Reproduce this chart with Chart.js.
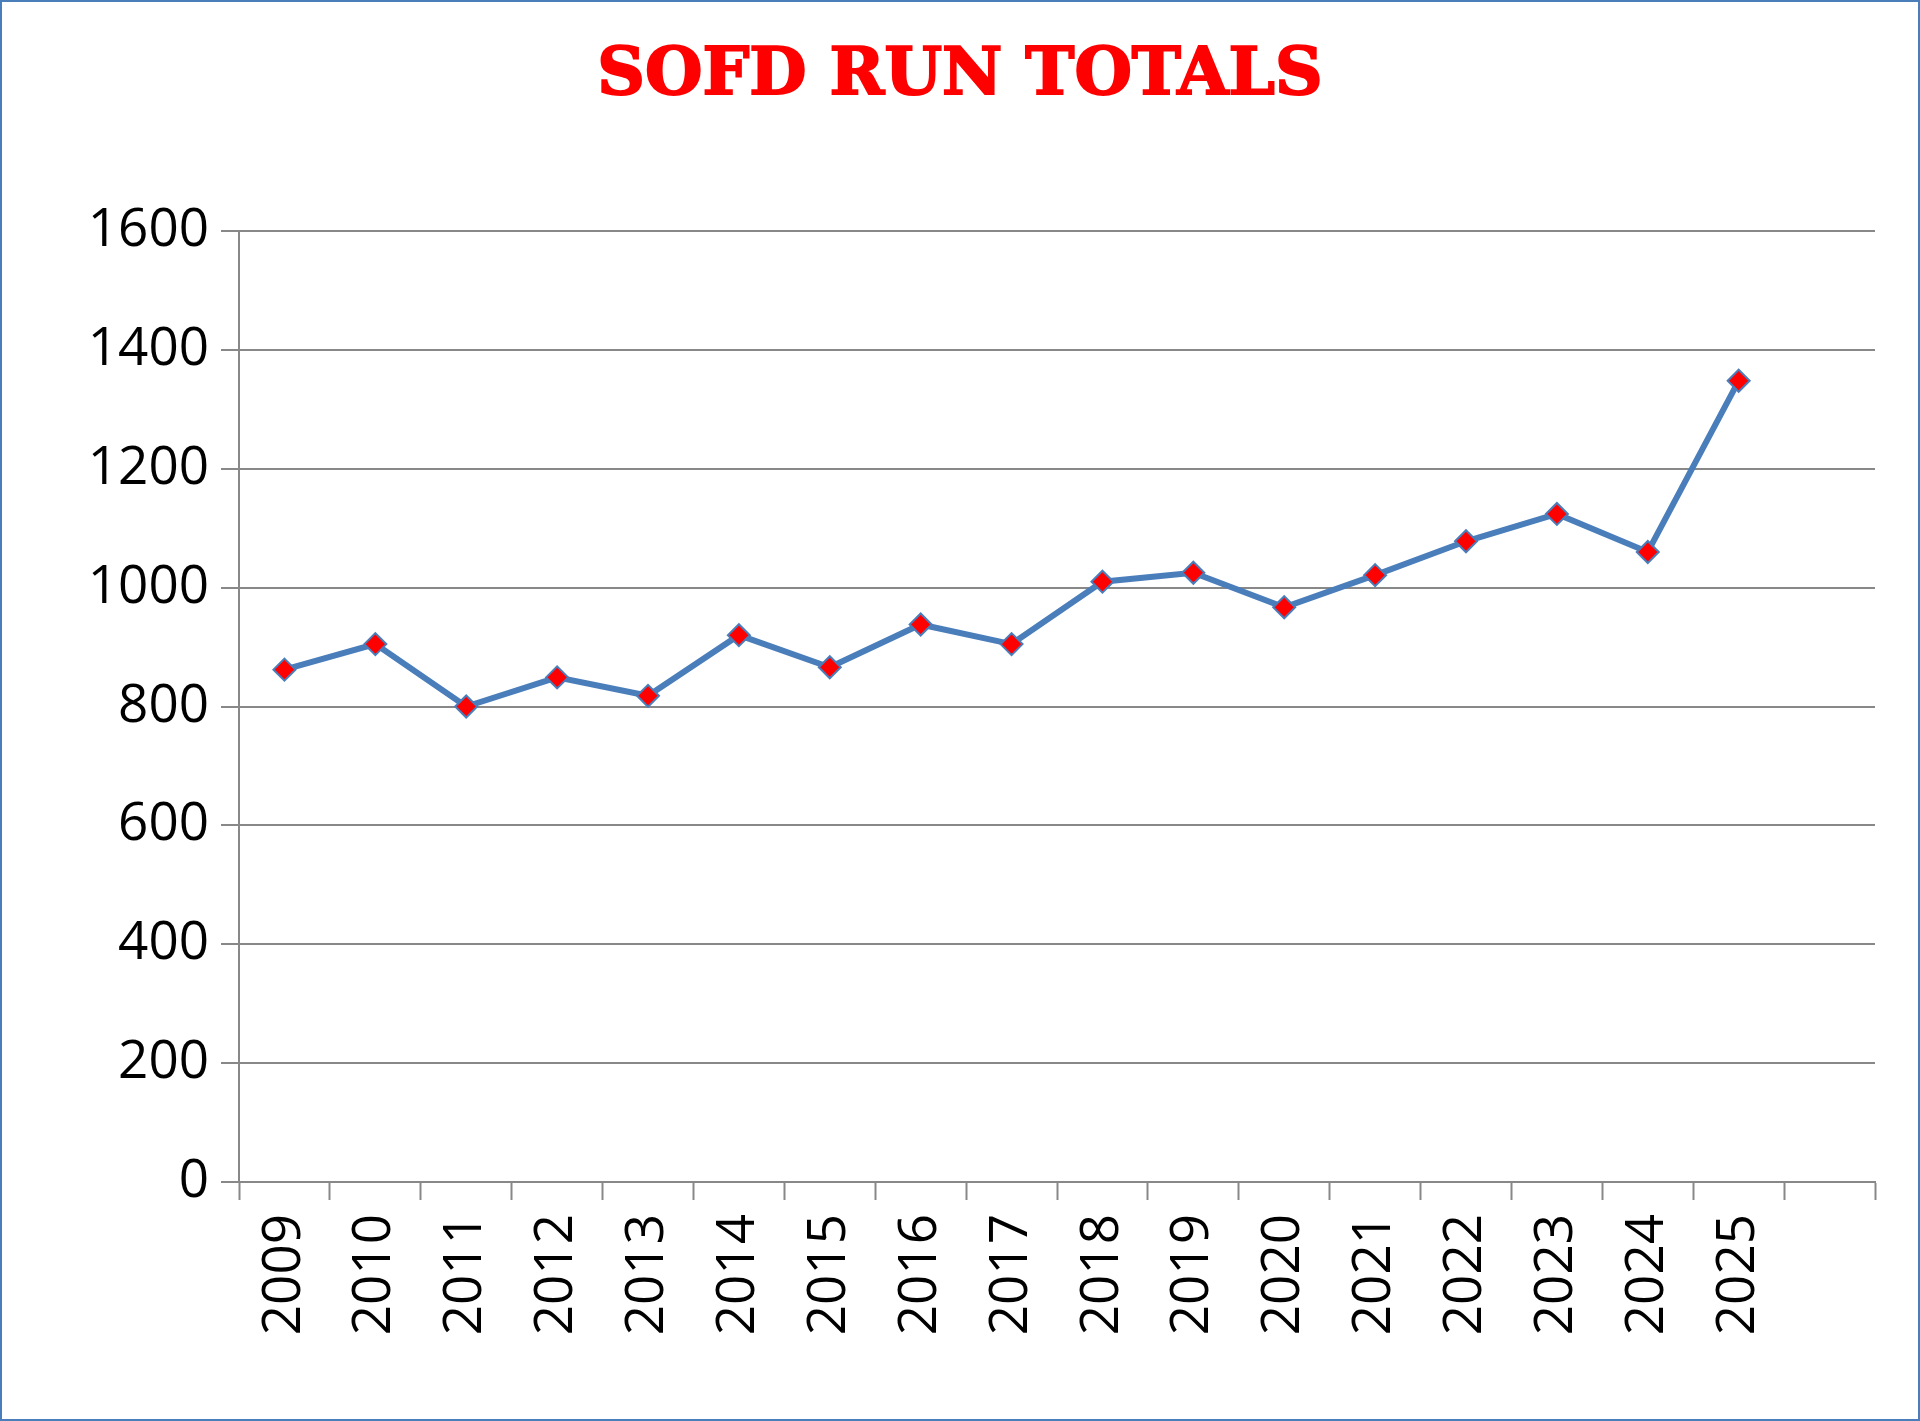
<html><head><meta charset="UTF-8">
<title>SOFD Run Totals</title>
<style>
* { margin: 0; padding: 0; box-sizing: border-box; }
body { background: #fff; }
.frame {
  position: relative;
  width: 1920px;
  height: 1421px;
  border: 2px solid #4a7ebb;
}
.title {
  position: absolute;
  top: 30px;
  left: 0;
  width: 100%;
  text-align: center;
  font-family: 'DejaVu Serif', serif;
  font-weight: 900;
  font-size: 66px;
  color: #ff0000;
  letter-spacing: 0px;
  -webkit-text-stroke: 2px #ff0000;
}
canvas { position: absolute; top: -2px; left: -2px; }
</style>
<script src="https://cdn.jsdelivr.net/npm/chart.js"></script>
</head>
<body>
<div class="frame">
  <div class="title">SOFD RUN TOTALS</div>
  <canvas id="runChart" width="1920" height="1421"></canvas>
</div>
<script>
const years = ['2009','2010','2011','2012','2013','2014','2015','2016','2017','2018','2019','2020','2021','2022','2023','2024','2025',''];
const runs = [862, 905, 800, 849, 818, 920, 866, 938, 905, 1010, 1025, 967, 1021, 1078, 1124, 1060, 1348, null];
const yTicks = [0, 200, 400, 600, 800, 1000, 1200, 1400, 1600];

new Chart(document.getElementById('runChart'), {
  type: 'line',
  data: {
    labels: years,
    datasets: [{
      data: runs,
      borderColor: '#4a7ebb',
      borderWidth: 6,
      pointStyle: 'rectRot',
      pointRadius: 11,
      pointBackgroundColor: '#ff0000',
      pointBorderColor: '#4a7ebb',
      pointBorderWidth: 2,
      tension: 0
    }]
  },
  options: {
    responsive: false,
    animation: false,
    layout: { padding: { top: 231, right: 45, bottom: 0, left: 0 } },
    plugins: { legend: { display: false }, tooltip: { enabled: false } },
    scales: {
      x: {
        offset: true,
        grid: { offset: true, drawOnChartArea: false, color: '#888', tickLength: 18, tickWidth: 2 },
        border: { color: '#888', width: 2 },
        ticks: {
          color: '#000', minRotation: 90, maxRotation: 90, padding: 14,
          font: { family: "'Open Sans', 'DejaVu Sans', sans-serif", size: 53 }
        },
        afterFit: s => { s.height = 239; }
      },
      y: {
        min: 0, max: 1600,
        afterBuildTicks: s => { s.ticks = yTicks.map(v => ({ value: v })); },
        grid: { color: '#888', lineWidth: 2, tickLength: 18 },
        border: { color: '#888', width: 2 },
        ticks: {
          color: '#000', padding: 12,
          callback: v => String(v),
          font: { family: "'Open Sans', 'DejaVu Sans', sans-serif", size: 53 }
        },
        afterFit: s => { s.width = 239; }
      }
    }
  }
});
</script>
</body></html>
